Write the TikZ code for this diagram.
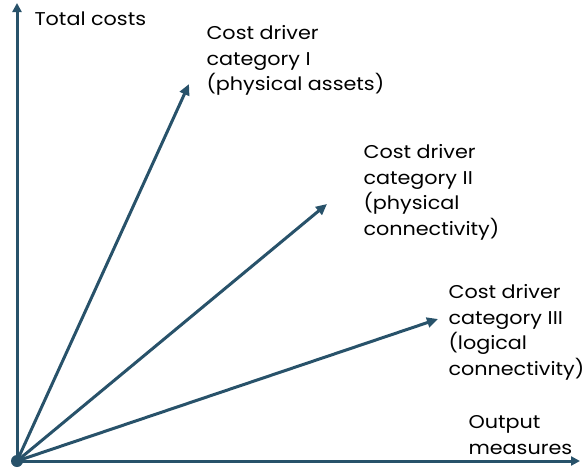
\documentclass[tikz,border=0pt]{standalone}
\usepackage{fontspec}
\setmainfont[FakeStretch=1.12]{Poppins}
\usepackage{tikz}
\usetikzlibrary{arrows.meta, positioning}
\definecolor{axisblue}{RGB}{40,82,106}

\begin{document}
\begin{tikzpicture}[x=1pt, y=-1pt, line width=3pt, axisblue,
    axis/.style = {-{Triangle[width=9pt, length=9pt]}},
    driver/.style = {-{Triangle[width=10pt, length=11pt]}},
    lbl/.style = {text=black, inner sep=0pt, align=left, anchor=north west,
        font=\fontsize{18.5}{25.5}\selectfont}]
    \useasboundingbox (0,0) rectangle (583,471);

    \node[circle, fill, minimum size=12pt, inner sep=0pt] (o) at (17,461) {};
    \coordinate (ytop) at (17,3);
    \coordinate (xend) at (580,461);
    \coordinate (t1) at (189,84);
    \coordinate (t2) at (327,204);
    \coordinate (t3) at (438,319);

    \draw[axis] (o.center) -- (ytop);
    \draw[axis] (o.center) -- (xend);

    \draw[driver] (o.center) -- (t1);
    \draw[driver] (o.center) -- (t2);
    \draw[driver] (o.center) -- (t3);

    \node[lbl] (ylbl) at (33,10)   {Total costs};
    \node[lbl] (xlbl) at (467,414) {Output\\measures};
    \node[lbl] (l1) at (205,24)    {Cost driver\\category I\\(physical assets)};
    \node[lbl] (l2) at (362,143)   {Cost driver\\category II\\(physical\\connectivity)};
    \node[lbl] (l3) at (447,283)   {Cost driver\\category III\\(logical\\connectivity)};
\end{tikzpicture}
\end{document}
